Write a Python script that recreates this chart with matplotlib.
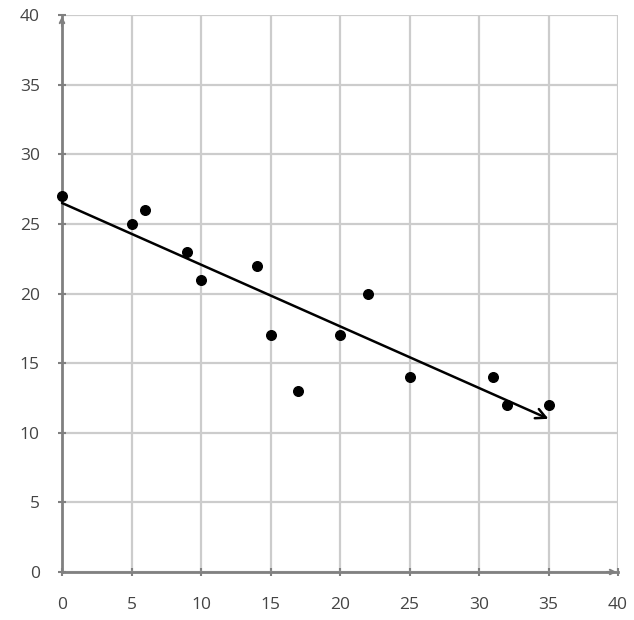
import matplotlib.pyplot as plt

# data
x_vals = [0, 5, 6, 9, 10, 14, 15, 17, 20, 22, 25, 31, 32, 35]
y_vals = [27, 25, 26, 23, 21, 22, 17, 13, 17, 20, 14, 14, 12, 12]
trend_start = (0, 26.5)
trend_end = (35, 11)
ticks = [0, 5, 10, 15, 20, 25, 30, 35, 40]

plt.rcParams['font.family'] = ['Open Sans', 'DejaVu Sans']

fig = plt.figure(figsize=(6.34, 6.2), dpi=100)
ax = fig.add_axes([62 / 634, 48 / 620, 556 / 634, 557 / 620])

ax.set_xlim(0, 40)
ax.set_ylim(0, 40)
ax.set_xticks(ticks)
ax.set_yticks(ticks)
ax.grid(True, color="#cccccc", linewidth=1.6)
ax.set_axisbelow(True)

for side in ["top", "right"]:
    ax.spines[side].set_visible(False)
for side in ["left", "bottom"]:
    ax.spines[side].set_color("#808080")
    ax.spines[side].set_linewidth(2)

ax.tick_params(axis="both", direction="inout", length=6, width=1.5,
               color="#808080", labelcolor="#444444", labelsize=12.5)
ax.tick_params(axis="x", pad=15)
ax.tick_params(axis="y", pad=13)

# axis arrows
ax.annotate("", xy=(40.1, 0), xytext=(39, 0), annotation_clip=False,
            arrowprops=dict(arrowstyle="->", color="#808080", lw=1.5,
                            mutation_scale=8))
ax.annotate("", xy=(0, 40.1), xytext=(0, 39), annotation_clip=False,
            arrowprops=dict(arrowstyle="->", color="#808080", lw=1.5,
                            mutation_scale=8))

# trend line with arrow
ax.annotate("", xy=trend_end, xytext=trend_start,
            arrowprops=dict(arrowstyle="->", color="black", lw=1.8,
                            mutation_scale=18, shrinkA=0, shrinkB=0))

ax.scatter(x_vals, y_vals, s=48, color="black", zorder=5, clip_on=False)

plt.savefig("out.png")
